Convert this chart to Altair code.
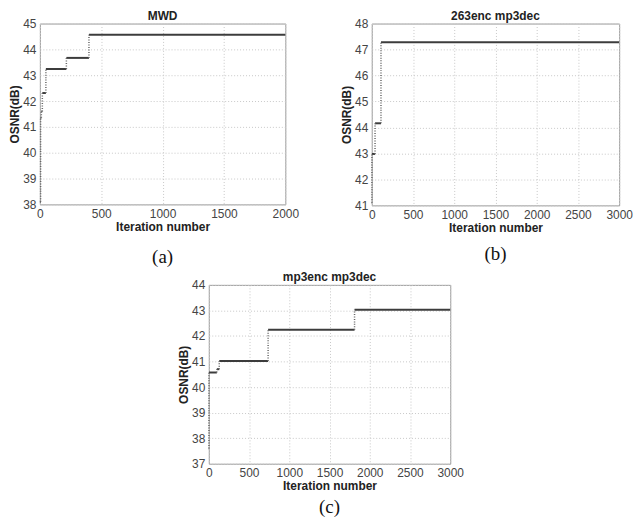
import altair as alt
import pandas as pd

# ---- data ----
titles = ["MWD", "263enc mp3dec", "mp3enc mp3dec"]
captions = ["(a)", "(b)", "(c)"]

# panel (a): iteration where each OSNR level starts, the level, last iteration
a_start = [0, 6, 12, 20, 49, 216, 400]
a_osnr = [38.1, 41.35, 41.6, 42.31, 43.24, 43.67, 44.57]
a_end = 2000
a_xticks = [0, 500, 1000, 1500, 2000]
a_yticks = [38, 39, 40, 41, 42, 43, 44, 45]

# panel (b)
b_start = [0, 2, 40, 112]
b_osnr = [41.1, 42.98, 44.16, 47.28]
b_end = 3000
b_xticks = [0, 500, 1000, 1500, 2000, 2500, 3000]
b_yticks = [41, 42, 43, 44, 45, 46, 47, 48]

# panel (c)
c_start = [0, 2, 100, 130, 737, 1811]
c_osnr = [37.6, 40.57, 40.7, 41.02, 42.24, 43.03]
c_end = 3000
c_xticks = [0, 500, 1000, 1500, 2000, 2500, 3000]
c_yticks = [37, 38, 39, 40, 41, 42, 43, 44]

SANS = "Liberation Sans"
SERIF = "Liberation Serif"


def axis(values, title, lp, tp):
    return alt.Axis(values=values, title=title, format="d", grid=True,
                    tickCount=len(values),
                    gridDash=[1, 2], gridColor="#c8c8c8", ticks=False,
                    domain=False, labelPadding=lp, titlePadding=tp,
                    labelOverlap=False, labelFlush=False,
                    labelFontSize=12, labelFont=SANS, labelColor="#444",
                    titleFontSize=12, titleFont=SANS, titleFontWeight="bold",
                    titleColor="#222")


def panel(starts, levels, end, xticks, yticks, title, caption, w, h, cap_off):
    horiz = pd.DataFrame({"x": starts, "x2": starts[1:] + [end], "y": levels})
    vert = pd.DataFrame({"x": starts[1:], "y": levels[:-1], "y2": levels[1:]})
    xs = alt.Scale(domain=[xticks[0], xticks[-1]], nice=False, zero=False)
    ys = alt.Scale(domain=[yticks[0], yticks[-1]], nice=False, zero=False)
    xax = axis(xticks, "Iteration number", 4, 2)
    yax = axis(yticks, "OSNR(dB)", 4, 1)
    hl = alt.Chart(horiz).mark_rule(color="#3c3c3c", strokeWidth=2).encode(
        x=alt.X("x:Q", scale=xs, axis=xax),
        x2="x2:Q",
        y=alt.Y("y:Q", scale=ys, axis=yax),
    )
    vl = alt.Chart(vert).mark_rule(color="#666", strokeWidth=1.5,
                                   strokeDash=[1, 1.5]).encode(
        x=alt.X("x:Q", scale=xs, axis=xax),
        y=alt.Y("y:Q", scale=ys, axis=yax),
        y2="y2:Q",
    )
    ttl = alt.Chart(pd.DataFrame({"lab": [title]})).mark_text(
        font=SANS, fontSize=12, fontWeight="bold", color="#222",
        baseline="middle", align="center"
    ).encode(text="lab:N", x=alt.value(w / 2), y=alt.value(-8))
    cap = alt.Chart(pd.DataFrame({"lab": [caption]})).mark_text(
        font=SERIF, fontSize=19, color="#111", baseline="middle", align="center"
    ).encode(text="lab:N", x=alt.value(w / 2), y=alt.value(h + cap_off))
    return alt.layer(hl, vl, ttl, cap).properties(width=w, height=h)


pa = panel(a_start, a_osnr, a_end, a_xticks, a_yticks, titles[0], captions[0],
           247, 182, 53)
pb = panel(b_start, b_osnr, b_end, b_xticks, b_yticks, titles[1], captions[1],
           249, 183, 49)
pc = panel(c_start, c_osnr, c_end, c_xticks, c_yticks, titles[2], captions[2],
           243, 180, 44)

chart = alt.vconcat(
    alt.hconcat(pa, pb, spacing=41),
    pc,
    spacing=2,
    center=True,
).properties(
    padding={"top": -1, "left": 0, "right": 0, "bottom": 0}
).configure_view(stroke="#9a9a9a", strokeWidth=1)

chart.save("out.html", embed_options={"renderer": "svg", "actions": False})
